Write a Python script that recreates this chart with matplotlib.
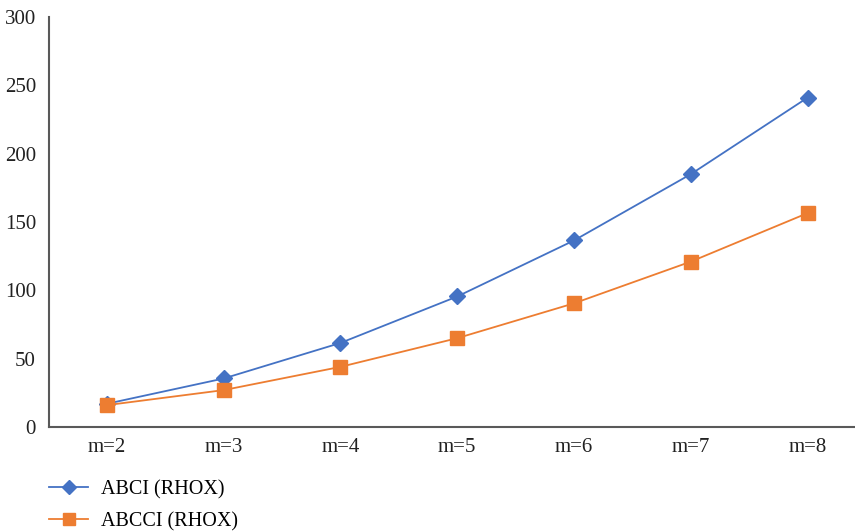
import matplotlib
matplotlib.use("Agg")
import matplotlib.pyplot as plt

categories = ["m=2", "m=3", "m=4", "m=5", "m=6", "m=7", "m=8"]
abci = [17, 35.5, 61.5, 95.5, 136.5, 185, 241]
abcci = [16, 27, 44, 65, 90.5, 121, 156.5]
yticks = [0, 50, 100, 150, 200, 250, 300]

blue = "#4472C4"
orange = "#ED7D31"
axis_grey = "#595959"

plt.rcParams["font.family"] = ["Liberation Serif", "DejaVu Serif"]

W, H = 855, 532
fig = plt.figure(figsize=(W / 100, H / 100), dpi=100)
# plot area runs slightly past the right edge of the canvas
left, right, top, bottom = 48.5, 866, 17, 427
ax = fig.add_axes([left / W, 1 - bottom / H, (right - left) / W, (bottom - top) / H])

x = list(range(len(categories)))
ax.plot(x, abci, color=blue, lw=1.3, marker="D", ms=8.5, mec=blue, mfc=blue,
        label="ABCI (RHOX)", zorder=3)
ax.plot(x, abcci, color=orange, lw=1.3, marker="s", ms=10, mec=orange, mfc=orange,
        label="ABCCI (RHOX)", zorder=3)

ax.set_xlim(-0.5, len(categories) - 0.5)
ax.set_ylim(0, 300)
ax.set_xticks(x)
ax.set_xticklabels(categories)
ax.set_yticks(yticks)
ax.tick_params(axis="both", length=0, labelsize=15, colors="#222222")
ax.tick_params(axis="x", pad=8)
ax.tick_params(axis="y", pad=9)

for side in ("top", "right"):
    ax.spines[side].set_visible(False)
for side in ("left", "bottom"):
    ax.spines[side].set_color(axis_grey)
    ax.spines[side].set_linewidth(1.5)

handles, labels = ax.get_legend_handles_labels()
leg = fig.legend(handles, labels, loc="upper left",
                 bbox_to_anchor=(49 / W, 1 - 480 / H), frameon=False,
                 fontsize=14.5, handlelength=1.95, labelspacing=0.62,
                 handletextpad=0.62, borderpad=0, borderaxespad=0,
                 markerscale=0.85)

fig.savefig("out.png", dpi=100)
